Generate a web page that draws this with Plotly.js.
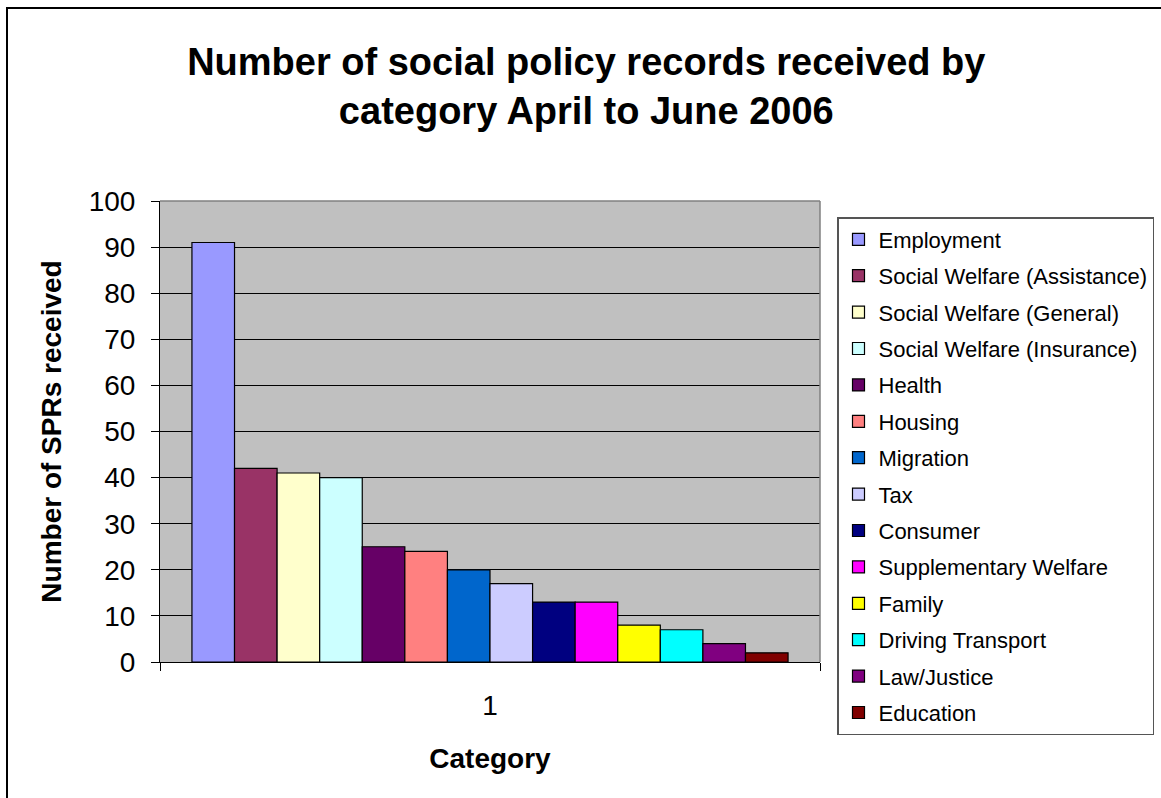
<!DOCTYPE html>
<html>
<head>
<meta charset="utf-8">
<script src="https://cdn.plot.ly/plotly-3.0.1.min.js"></script>
<style>
html,body{margin:0;padding:0;background:#fff;}
#chart{width:1161px;height:798px;}
</style>
</head>
<body>
<div id="chart"></div>
<script>
const categoryLabels = ['1'];
const seriesNames = [
  'Employment',
  'Social Welfare (Assistance)',
  'Social Welfare (General)',
  'Social Welfare (Insurance)',
  'Health',
  'Housing',
  'Migration',
  'Tax',
  'Consumer',
  'Supplementary Welfare',
  'Family',
  'Driving Transport',
  'Law/Justice',
  'Education'
];
const seriesValues = [91, 42, 41, 40, 25, 24, 20, 17, 13, 13, 8, 7, 4, 2];
const seriesColors = [
  '#9999FF', '#993366', '#FFFFCC', '#CCFFFF', '#660066', '#FF8080', '#0066CC',
  '#CCCCFF', '#000080', '#FF00FF', '#FFFF00', '#00FFFF', '#800080', '#800000'
];
const yTickValues = [0, 10, 20, 30, 40, 50, 60, 70, 80, 90, 100];

const FONT = 'Liberation Sans, Arial, sans-serif';

const traces = seriesNames.map((name, i) => ({
  type: 'bar',
  name: name,
  x: categoryLabels,
  y: [seriesValues[i]],
  legendgroup: 'g' + i,
  marker: { color: seriesColors[i], line: { color: '#000000', width: 1.2 } },
  hoverinfo: 'name+y'
}));

const layout = {
  width: 1161,
  height: 798,
  paper_bgcolor: '#FFFFFF',
  plot_bgcolor: '#C0C0C0',
  margin: { l: 160, r: 341, t: 201, b: 136, autoexpand: false },
  barmode: 'group',
  bargap: 1.5 / 15.5,
  bargroupgap: 0,
  showlegend: true,
  font: { family: FONT, color: '#000000' },
  title: {
    text: 'Number of social policy records received by<br>category April to June 2006',
    font: { family: FONT, size: 38, color: '#000000', weight: 'bold' },
    x: 0.505, xref: 'container', xanchor: 'center',
    y: 1 - 75 / 798, yref: 'container', yanchor: 'top'
  },
  xaxis: {
    type: 'category',
    range: [-0.5, 0.5],
    tickson: 'boundaries',
    ticks: 'outside',
    ticklen: 8,
    tickcolor: '#000000',
    tickwidth: 1,
    showline: true,
    linecolor: '#000000',
    linewidth: 1,
    showgrid: false,
    tickfont: { family: FONT, size: 28, color: '#000000' },
    ticklabelstandoff: 18,
    title: {
      text: 'Category',
      font: { family: FONT, size: 28, color: '#000000', weight: 'bold' },
      standoff: 28
    },
    automargin: false,
    fixedrange: true
  },
  yaxis: {
    range: [0, 100],
    tickvals: yTickValues,
    ticks: 'outside',
    ticklen: 8,
    tickcolor: '#000000',
    tickwidth: 1,
    showline: true,
    linecolor: '#000000',
    linewidth: 1,
    showgrid: true,
    gridcolor: '#000000',
    gridwidth: 1,
    zeroline: false,
    tickfont: { family: FONT, size: 28, color: '#000000' },
    ticklabelstandoff: 10,
    title: {
      text: 'Number of SPRs received',
      font: { family: FONT, size: 28, color: '#000000', weight: 'bold' },
      standoff: 18
    },
    automargin: false,
    fixedrange: true
  },
  legend: {
    x: (837 - 160) / 660,
    xanchor: 'left',
    y: (662 - 217) / 461,
    yanchor: 'top',
    maxheight: 700,
    bgcolor: '#FFFFFF',
    bordercolor: '#555555',
    borderwidth: 1.5,
    font: { family: FONT, size: 22, color: '#000000' },
    tracegroupgap: 4.8,
    traceorder: 'grouped'
  },
  shapes: [
    { type: 'line', xref: 'paper', yref: 'paper', x0: 0, x1: 1, y0: 1, y1: 1,
      line: { color: '#808080', width: 1.5 }, layer: 'above' },
    { type: 'line', xref: 'paper', yref: 'paper', x0: 1, x1: 1, y0: 0, y1: 1,
      line: { color: '#808080', width: 1.5 }, layer: 'above' },
    { type: 'rect', xref: 'paper', yref: 'paper',
      x0: (7 - 160) / 660, x1: (1170 - 160) / 660,
      y0: (662 - 810) / 461, y1: (662 - 8) / 461,
      line: { color: '#000000', width: 2 }, fillcolor: 'rgba(0,0,0,0)', layer: 'below' }
  ]
};

Plotly.newPlot('chart', traces, layout, { displayModeBar: false, staticPlot: true });
</script>
</body>
</html>
